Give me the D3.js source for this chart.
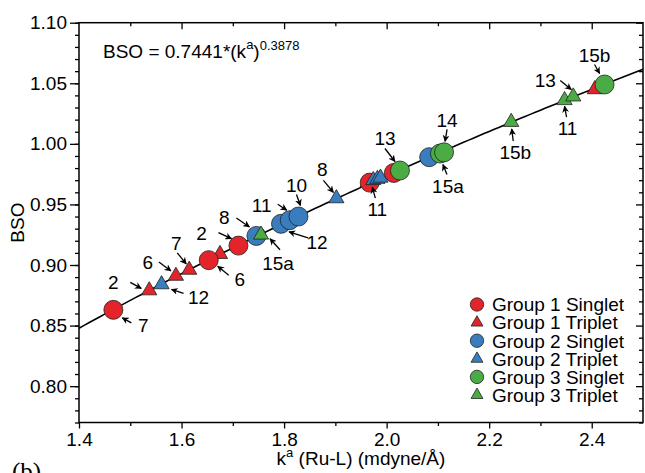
<!DOCTYPE html>
<html>
<head>
<meta charset="utf-8">
<script src="https://cdn.jsdelivr.net/npm/d3@7"></script>
<style>
  body { margin: 0; background: #fff; }
  svg { display: block; }
  text { font-family: "Liberation Sans", Arial, Helvetica, sans-serif; fill: #000; }
</style>
</head>
<body>
<svg id="chart" width="645" height="473"></svg>
<script>
// ---- data: force constant k^a (mdyne/Å) and bond order BSO ----
const seriesNames = ["Group 1 Singlet", "Group 1 Triplet", "Group 2 Singlet",
                     "Group 2 Triplet", "Group 3 Singlet", "Group 3 Triplet"];

const g1SingletK   = [1.467, 1.653, 1.711, 1.967, 2.014];
const g1SingletBSO = [0.863, 0.904, 0.916, 0.968, 0.976];

const g1TripletK   = [1.537, 1.589, 1.615, 1.675, 1.963, 2.406];
const g1TripletBSO = [0.879, 0.891, 0.896, 0.909, 0.968, 1.045];

const g2SingletK   = [1.746, 1.794, 1.811, 1.828, 2.083];
const g2SingletBSO = [0.924, 0.934, 0.937, 0.940, 0.989];

const g2TripletK   = [1.561, 1.902, 1.974, 1.982, 1.988];
const g2TripletBSO = [0.884, 0.955, 0.970, 0.971, 0.972];

const g3SingletK   = [2.026, 2.104, 2.112, 2.425];
const g3SingletBSO = [0.978, 0.992, 0.993, 1.049];

const g3TripletK   = [1.755, 2.243, 2.347, 2.364];
const g3TripletBSO = [0.925, 1.018, 1.036, 1.039];

// fitted power law BSO = A * (k^a)^B
const fitA = 0.7441;
const fitB = 0.3878;

const xTickValues = [1.4, 1.6, 1.8, 2.0, 2.2, 2.4];
const yTickValues = [0.80, 0.85, 0.90, 0.95, 1.00, 1.05, 1.10];

// compound labels: text, series index, point index
const calloutText   = ["2", "12", "6", "7", "6", "7", "2", "8", "15a", "11", "10", "12",
                       "8", "11", "13", "14", "15a", "15b", "13", "11", "15b"];
const calloutSeries = [1, 3, 1, 1, 0, 0, 0, 2, 5, 2, 2, 2, 3, 3, 4, 4, 4, 5, 5, 5, 4];
const calloutPoint  = [0, 0, 1, 2, 1, 0, 2, 0, 0, 2, 3, 1, 1, 2, 0, 2, 1, 1, 3, 2, 3];

// ---- layout ----
const margin = { left: 79, right: 2, top: 22.7, bottom: 50.5 };
const W = 645, H = 473;
const svg = d3.select("#chart");

const x = d3.scaleLinear().domain([1.4, 2.5]).range([margin.left, W - margin.right]);
const y = d3.scaleLinear().domain([0.77, 1.10]).range([H - margin.bottom, margin.top]);

const colors = { red: "#e3242b", blue: "#3a7dbf", green: "#4bac45" };
const seriesStyle = [
  { color: colors.red,   shape: "circle"   },
  { color: colors.red,   shape: "triangle" },
  { color: colors.blue,  shape: "circle"   },
  { color: colors.blue,  shape: "triangle" },
  { color: colors.green, shape: "circle"   },
  { color: colors.green, shape: "triangle" }
];
const seriesK   = [g1SingletK, g1TripletK, g2SingletK, g2TripletK, g3SingletK, g3TripletK];
const seriesBSO = [g1SingletBSO, g1TripletBSO, g2SingletBSO, g2TripletBSO, g3SingletBSO, g3TripletBSO];

// ---- axes ----
const x0 = x.range()[0], x1 = x.range()[1];
const y0 = y.range()[0], y1 = y.range()[1];
const fmtX = d3.format(".1f"), fmtY = d3.format(".2f");
const xMinor = d3.range(1.5, 2.5, 0.2).map(v => +v.toFixed(2));
const yMinor = d3.range(0.77, 1.1, 0.01).map(v => +v.toFixed(2));
const xTop = d3.range(1.5, 2.5, 0.1).map(v => +v.toFixed(2));

function styleAxis(g) {
  g.select(".domain").remove();
  g.selectAll("line").attr("stroke", "#000").attr("stroke-width", 1.3);
}

// bottom
svg.append("g").attr("transform", `translate(0,${y0})`)
  .call(d3.axisBottom(x).tickValues(xTickValues).tickFormat(fmtX).tickSize(6).tickPadding(4.5))
  .call(styleAxis)
  .selectAll("text").attr("font-size", 19).style("font-family", "'Liberation Sans', Arial, sans-serif");
svg.append("g").attr("transform", `translate(0,${y0})`)
  .call(d3.axisBottom(x).tickValues(xMinor).tickFormat("").tickSize(3.5))
  .call(styleAxis);
// top (inward)
svg.append("g").attr("transform", `translate(0,${y1})`)
  .call(d3.axisBottom(x).tickValues(xTop).tickFormat("")
    .tickSize(0))
  .call(styleAxis)
  .selectAll(".tick line").attr("y2", d => (Math.round(d * 10) % 2 === 0 ? 6.5 : 3.5));
// left
svg.append("g").attr("transform", `translate(${x0},0)`)
  .call(d3.axisLeft(y).tickValues(yTickValues).tickFormat(fmtY).tickSize(9).tickPadding(3))
  .call(styleAxis)
  .selectAll("text").attr("font-size", 19).style("font-family", "'Liberation Sans', Arial, sans-serif");
svg.append("g").attr("transform", `translate(${x0},0)`)
  .call(d3.axisLeft(y).tickValues(yMinor).tickFormat("").tickSize(4))
  .call(styleAxis);
// right (inward)
svg.append("g").attr("transform", `translate(${x1},0)`)
  .call(d3.axisLeft(y).tickValues(yMinor).tickFormat("").tickSize(0))
  .call(styleAxis)
  .selectAll(".tick line").attr("x2", d => (Math.round(d * 100) % 5 === 0 ? -7 : -4));

// frame
svg.append("rect")
  .attr("x", x0).attr("y", y1).attr("width", x1 - x0).attr("height", y0 - y1)
  .attr("fill", "none").attr("stroke", "#000").attr("stroke-width", 1.5);

// axis titles
const xTitle = svg.append("text")
  .attr("x", (x0 + x1) / 2).attr("y", 465).attr("text-anchor", "middle").attr("font-size", 19);
xTitle.append("tspan").text("k");
xTitle.append("tspan").attr("font-size", 13).attr("dy", -8).text("a");
xTitle.append("tspan").attr("dy", 8).text(" (Ru-L) (mdyne/Å)");

svg.append("text")
  .attr("transform", `translate(24,${(y0 + y1) / 2}) rotate(-90)`)
  .attr("text-anchor", "middle").attr("font-size", 19).text("BSO");

// panel tag
svg.append("text").attr("x", 12).attr("y", 480)
  .attr("font-size", 25).style("font-family", "'Liberation Serif', 'Times New Roman', serif")
  .text("(b)");

// ---- fit curve ----
const fitLine = d3.line().x(d => x(d)).y(d => y(fitA * Math.pow(d, fitB)));
svg.append("path")
  .datum(d3.range(1.4, 2.5001, 0.01))
  .attr("d", fitLine)
  .attr("fill", "none").attr("stroke", "#000").attr("stroke-width", 1.6);

// fit equation
const eq = svg.append("text").attr("x", 103).attr("y", 58).attr("font-size", 19);
eq.append("tspan").text("BSO = 0.7441*(k");
eq.append("tspan").attr("font-size", 13).attr("dy", -9).text("a");
eq.append("tspan").attr("dy", 9).text(")");
eq.append("tspan").attr("font-size", 13).attr("dy", -8).text("0.3878");

// ---- markers ----
const circleR = 9.5;
const triSize = 100;
const drawOrder = [1, 0, 2, 3, 4, 5];
const markLayer = svg.append("g");

drawOrder.forEach(si => {
  const st = seriesStyle[si];
  const pts = seriesK[si].map((k, i) => ({ k, b: seriesBSO[si][i] }));
  const g = markLayer.append("g");
  if (st.shape === "circle") {
    g.selectAll("circle").data(pts).join("circle")
      .attr("cx", d => x(d.k)).attr("cy", d => y(d.b)).attr("r", circleR)
      .attr("fill", st.color).attr("stroke", "#222").attr("stroke-width", 0.8);
  } else {
    g.selectAll("path").data(pts).join("path")
      .attr("d", d3.symbol(d3.symbolTriangle, triSize))
      .attr("transform", d => `translate(${x(d.k)},${y(d.b)})`)
      .attr("fill", st.color).attr("stroke", "#222").attr("stroke-width", 0.8);
  }
});

// ---- callouts ----
// offsets (px) from the mark: label centre, arrow tail, arrow head
const calloutOffsets = [
  [-36, -8, -19, -8, -8, -2],
  [37, 13, 22, 9, 10, 5],
  [-28, -14, -17, -14, -5, -5],
  [-13, -27, -12, -17, -3, -6],
  [31, 19, 20, 15, 9, 6],
  [30, 15, 18, 13, 9, 8],
  [-37, -12, -20, -13, -7, -7],
  [-32, -19, -20, -18, -7, -9],
  [17, 28, 19, 15, 9, 4],
  [-28, -15, -12, -16, -3, -10],
  [-2, -31, -2, -22, 2, -11],
  [36, 18, 27, 14, 8, 8],
  [-14, -29, -13, -18, -3, -6],
  [4, 29, 2, 18, -1, 7],
  [-15, -32, -15, -22, -5, -9],
  [3, -32, 3, -23, 1, -11],
  [8, 33, 7, 21, 3, 11],
  [4, 30, 2, 19, 0.5, 7],
  [-28, -16, -13, -16, -2, -7],
  [3, 28, 2, 17, 0, 6],
  [-10, -29, -10, -20, -5, -11]
];

const defs = svg.append("defs");
defs.append("marker")
  .attr("id", "arrowhead").attr("viewBox", "0 0 10 10")
  .attr("refX", 9).attr("refY", 5)
  .attr("markerWidth", 7).attr("markerHeight", 7)
  .attr("markerUnits", "userSpaceOnUse")
  .attr("orient", "auto")
  .append("path").attr("d", "M0,0 L10,5 L0,10 L3,5 Z").attr("fill", "#000");

const calloutLayer = svg.append("g");
calloutText.forEach((t, i) => {
  const si = calloutSeries[i], pi = calloutPoint[i];
  const cx = x(seriesK[si][pi]), cy = y(seriesBSO[si][pi]);
  const o = calloutOffsets[i];
  calloutLayer.append("line")
    .attr("x1", cx + o[2]).attr("y1", cy + o[3])
    .attr("x2", cx + o[4]).attr("y2", cy + o[5])
    .attr("stroke", "#000").attr("stroke-width", 1.3)
    .attr("marker-end", "url(#arrowhead)");
  calloutLayer.append("text")
    .attr("x", cx + o[0]).attr("y", cy + o[1]).attr("dy", "0.36em")
    .attr("text-anchor", "middle").attr("font-size", 19).text(t);
});

// ---- legend ----
const legend = svg.append("g").attr("transform", "translate(477,304.5)");
seriesNames.forEach((name, i) => {
  const st = seriesStyle[i];
  const row = legend.append("g").attr("transform", `translate(0,${i * 18.1})`);
  if (st.shape === "circle") {
    row.append("circle").attr("r", 6.7).attr("fill", st.color).attr("stroke", "#222").attr("stroke-width", 0.8);
  } else {
    row.append("path").attr("d", d3.symbol(d3.symbolTriangle, 62))
      .attr("fill", st.color).attr("stroke", "#222").attr("stroke-width", 0.8);
  }
  row.append("text").attr("x", 15).attr("dy", "0.36em").attr("font-size", 19).text(name);
});
</script>
</body>
</html>
